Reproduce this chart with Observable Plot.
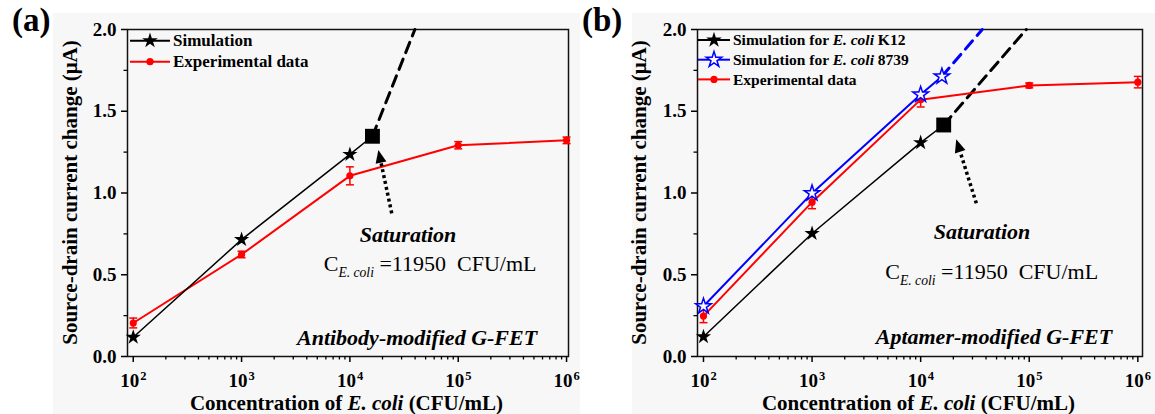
<!DOCTYPE html>
<html><head><meta charset="utf-8">
<script src="https://cdn.jsdelivr.net/npm/d3@7"></script>
<script src="https://cdn.jsdelivr.net/npm/@observablehq/plot@0.6"></script>
<style>
body{margin:0;background:#fff;}
#wrap{position:relative;width:1155px;height:414px;overflow:hidden;background:#fff;}
.bg{position:absolute;background:#f7f7f7;}
.panel{position:absolute;top:0;}
svg text{white-space:pre;}
</style></head><body>
<div id="wrap">
<div class="bg" style="left:53px;top:13px;width:527px;height:401px"></div>
<div class="bg" style="left:632px;top:13px;width:523px;height:401px"></div>
</div>
<script>
// ---------- data ----------
const decades = [100, 1000, 10000, 100000, 1000000];
const exponents = ["2", "3", "4", "5", "6"];
const yMajor = [0, 0.5, 1.0, 1.5, 2.0];
const yMinor = [0.25, 0.75, 1.25, 1.75];

// Panel (a)
const aSimConc = [100, 1000, 10000, 16150];
const aSimCurr = [0.118, 0.715, 1.236, 1.347];
const aDashConc = [16150, 39800];
const aDashCurr = [1.347, 2.0];
const aExpConc = [100, 1000, 10000, 100000, 1000000];
const aExpCurr = [0.205, 0.624, 1.105, 1.292, 1.322];
const aExpErr = [0.03, 0.02, 0.055, 0.022, 0.02];
const aArrowConc = [24600, 18500];
const aArrowCurr = [0.873, 1.26];

// Panel (b)
const bK12Conc = [100, 1000, 10000, 16300];
const bK12Curr = [0.121, 0.752, 1.308, 1.416];
const bK12DashConc = [16300, 93800];
const bK12DashCurr = [1.416, 2.0];
const b8739Conc = [100, 1000, 10000, 15700];
const b8739Curr = [0.307, 0.999, 1.602, 1.713];
const b8739DashConc = [15700, 36900];
const b8739DashCurr = [1.713, 2.0];
const bExpConc = [100, 1000, 10000, 100000, 1000000];
const bExpCurr = [0.247, 0.944, 1.571, 1.658, 1.678];
const bExpErr = [0.04, 0.04, 0.045, 0.015, 0.035];
const bArrowConc = [32900, 21500];
const bArrowCurr = [0.934, 1.325];

// text
const xTitle = [{t: "Concentration of "}, {t: "E. coli", italic: true}, {t: " (CFU/mL)"}];
const yTitle = "Source-drain current change (\u03bcA)";
const satLabel = "Saturation";
const concLabel = [{t: "C"}, {t: "E. coli", italic: true, sub: true}, {t: " =11950  CFU/mL"}];

const FONT = '"Liberation Serif","Times New Roman",Times,serif';

const pts = (xs, ys) => xs.map((x, i) => ({x, y: ys[i]}));
const errPts = (xs, ys, es) => xs.map((x, i) => ({x, y: ys[i], lo: ys[i] - es[i], hi: ys[i] + es[i]}));

const capSymbol = {draw(ctx, size) { const w = 4; ctx.moveTo(-w, 0); ctx.lineTo(w, 0); }};

function arrowMark(xs, ys) {
  return (index, scales) => {
    const X = scales.x, Y = scales.y;
    const x1 = X(xs[0]), y1 = Y(ys[0]), x2 = X(xs[1]), y2 = Y(ys[1]);
    const a = Math.atan2(y2 - y1, x2 - x1);
    const hl = 13, hw = 5.5;
    const bx = x2 - hl * Math.cos(a), by = y2 - hl * Math.sin(a);
    const g = d3.create("svg:g");
    g.append("line").attr("x1", x1).attr("y1", y1).attr("x2", bx).attr("y2", by)
      .attr("stroke", "#000").attr("stroke-width", 3.5).attr("stroke-dasharray", "3,3");
    g.append("path").attr("d", `M${x2},${y2}L${bx - hw * Math.sin(a)},${by + hw * Math.cos(a)}L${bx + hw * Math.sin(a)},${by - hw * Math.cos(a)}Z`)
      .attr("fill", "#000");
    return g.node();
  };
}

function rich(sel, x, y, parts, o) {
  const t = sel.append("text").attr("x", x).attr("y", y)
    .attr("font-family", FONT).attr("font-size", o.size)
    .attr("font-weight", o.weight || "normal").attr("font-style", o.style || "normal")
    .attr("text-anchor", o.anchor || "start").attr("fill", "#000");
  if (o.transform) t.attr("transform", o.transform);
  if (typeof parts === "string") parts = [{t: parts}];
  let shifted = 0;
  for (const p of parts) {
    const s = t.append("tspan").text(p.t);
    if (p.italic) s.attr("font-style", "italic");
    if (p.sub) { s.attr("font-size", o.size * 0.62).attr("dy", 6); shifted = 6; }
    else if (shifted) { s.attr("dy", -shifted); shifted = 0; }
  }
  return t;
}

function panel(cfg) {
  const xMinor = d3.scaleLog().domain([100, 1e6]).ticks().filter(d => !decades.includes(d));
  const marks = [
    Plot.frame({stroke: "#111", strokeWidth: 1.5}),
    Plot.axisY({ticks: yMajor, tickSize: 6, tickPadding: 5, tickFormat: d3.format(".1f"), fontSize: 19, fontWeight: "bold", fontFamily: FONT, label: null, strokeWidth: 1.5}),
    Plot.axisY({ticks: yMinor, tickSize: 3.5, tickFormat: () => "", label: null, strokeWidth: 1.3}),
    Plot.axisX({ticks: decades, tickSize: 6, tickFormat: () => "", label: null, strokeWidth: 1.5}),
    Plot.axisX({ticks: xMinor, tickSize: 3.5, tickFormat: () => "", label: null, strokeWidth: 1.3}),
    Plot.text(decades, {x: d => d, text: () => "10", frameAnchor: "bottom", lineAnchor: "bottom", textAnchor: "end", dy: 30, dx: 6, fontSize: 19, fontWeight: "bold", fontFamily: FONT, fill: "#000"}),
    Plot.text(decades, {x: d => d, text: (d, i) => exponents[i], frameAnchor: "bottom", lineAnchor: "bottom", textAnchor: "start", dy: 23, dx: 7, fontSize: 12.5, fontWeight: "bold", fontFamily: FONT, fill: "#000"}),
    ...cfg.marks
  ];
  return Plot.plot({
    width: cfg.width, height: 414,
    marginLeft: cfg.ml, marginRight: cfg.mr, marginTop: 29, marginBottom: 58,
    x: {type: "log", domain: cfg.xdom, axis: null},
    y: {domain: [0, 2], axis: null},
    style: {background: "transparent", fontFamily: FONT, overflow: "visible"},
    marks
  });
}

function expMarks(xs, ys, es) {
  const d = errPts(xs, ys, es);
  return [
    Plot.line(d, {x: "x", y: "y", stroke: "#ff0000", strokeWidth: 2}),
    Plot.ruleX(d, {x: "x", y1: "lo", y2: "hi", stroke: "#ff0000", strokeWidth: 1.5}),
    Plot.dot(d, {x: "x", y: "lo", symbol: capSymbol, stroke: "#ff0000", strokeWidth: 1.5}),
    Plot.dot(d, {x: "x", y: "hi", symbol: capSymbol, stroke: "#ff0000", strokeWidth: 1.5}),
    Plot.dot(d, {x: "x", y: "y", r: 3.6, fill: "#ff0000"})
  ];
}

const wrap = document.getElementById("wrap");

// ---------- Panel (a) ----------
const aSim = pts(aSimConc, aSimCurr);
const plotA = panel({
  width: 580, ml: 127, mr: 12, xdom: [10 ** 1.947, 10 ** 6.018],
  marks: [
    Plot.line(pts(aDashConc, aDashCurr), {x: "x", y: "y", stroke: "#000", strokeWidth: 3, strokeDasharray: "11,7"}),
    ...expMarks(aExpConc, aExpCurr, aExpErr),
    Plot.line(aSim, {x: "x", y: "y", stroke: "#000", strokeWidth: 1.5}),
    Plot.dot(aSim.slice(0, 3), {x: "x", y: "y", symbol: "star", r: 4.8, fill: "#000"}),
    Plot.dot(aSim.slice(3), {x: "x", y: "y", symbol: "square", r: 8.4, fill: "#000"}),
    arrowMark(aArrowConc, aArrowCurr)
  ]
});
plotA.classList.add("panel"); plotA.style.left = "0px";
wrap.appendChild(plotA);

// ---------- Panel (b) ----------
const bK12 = pts(bK12Conc, bK12Curr);
const b8739 = pts(b8739Conc, b8739Curr);
const plotB = panel({
  width: 575, ml: 117, mr: 13, xdom: [10 ** 1.945, 10 ** 6.043],
  marks: [
    Plot.line(pts(bK12DashConc, bK12DashCurr), {x: "x", y: "y", stroke: "#000", strokeWidth: 3, strokeDasharray: "11,7"}),
    Plot.line(pts(b8739DashConc, b8739DashCurr), {x: "x", y: "y", stroke: "#0000ff", strokeWidth: 3, strokeDasharray: "11,7"}),
    Plot.line(bK12, {x: "x", y: "y", stroke: "#000", strokeWidth: 1.5}),
    Plot.dot(bK12.slice(0, 3), {x: "x", y: "y", symbol: "star", r: 4.8, fill: "#000"}),
    Plot.dot(bK12.slice(3), {x: "x", y: "y", symbol: "square", r: 8.4, fill: "#000"}),
    ...expMarks(bExpConc, bExpCurr, bExpErr),
    Plot.line(b8739, {x: "x", y: "y", stroke: "#0000ff", strokeWidth: 2}),
    Plot.dot(b8739, {x: "x", y: "y", symbol: "star", r: 4.9, fill: "#f7f7f7", stroke: "#0000ff", strokeWidth: 1.5}),
    arrowMark(bArrowConc, bArrowCurr)
  ]
});
plotB.classList.add("panel"); plotB.style.left = "580px";
wrap.appendChild(plotB);

// ---------- text decorations ----------
function decorate(plot, o) {
  const svg = d3.select(plot);
  const X = plot.scale("x").apply, Y = plot.scale("y").apply;
  const fl = o.ml, fr = o.width - o.mr, ft = 29, fb = 356;
  rich(svg, o.labelX, 31, o.label, {size: 33, weight: "bold"});
  rich(svg, (fl + fr) / 2 - 1, 410, xTitle, {size: 21, weight: "bold", anchor: "middle"});
  rich(svg, 0, 0, yTitle, {size: 21, weight: "bold", anchor: "middle", transform: `translate(${o.yTitleX},${(ft + fb) / 2}) rotate(-90)`}).attr("dy", "0.34em");
  rich(svg, X(o.sat[0]), Y(o.sat[1]) + 7, satLabel, {size: 22, weight: "bold", style: "italic", anchor: "middle"});
  rich(svg, X(o.conc[0]), Y(o.conc[1]) + 6, concLabel, {size: 22, anchor: "middle"});
  rich(svg, X(o.dev[0]), Y(o.dev[1]) + 7, o.device, {size: 22, weight: "bold", style: "italic", anchor: "end"});
  // legend
  const lg = svg.append("g");
  o.legend.forEach((e, i) => {
    const cy = ft + o.lgTop + i * o.lgStep;
    lg.append("line").attr("x1", fl + o.lgX1).attr("x2", fl + o.lgX2).attr("y1", cy).attr("y2", cy)
      .attr("stroke", e.color).attr("stroke-width", 2);
    const mx = fl + (o.lgX1 + o.lgX2) / 2;
    if (e.marker === "circle") {
      lg.append("circle").attr("cx", mx).attr("cy", cy).attr("r", 3.6).attr("fill", e.color);
    } else {
      lg.append("path").attr("d", d3.symbol(d3.symbolStar, Math.PI * 4.9 * 4.9)())
        .attr("transform", `translate(${mx},${cy})`)
        .attr("fill", e.hollow ? "#f7f7f7" : e.color).attr("stroke", e.hollow ? e.color : "none").attr("stroke-width", 1.5);
    }
    rich(lg, fl + o.lgText, cy + o.lgSize * 0.33, e.parts, {size: o.lgSize, weight: "bold"});
  });
}

decorate(plotA, {
  width: 580, ml: 127, mr: 12, label: "(a)", labelX: 12, yTitleX: 70,
  sat: [34800, 0.74], conc: [55600, 0.557], dev: [541000, 0.11],
  device: [{t: "Antibody-modified G-FET"}],
  lgTop: 11.7, lgStep: 21, lgX1: 3, lgX2: 43, lgText: 46, lgSize: 17,
  legend: [
    {color: "#000", marker: "star", parts: [{t: "Simulation"}]},
    {color: "#ff0000", marker: "circle", parts: [{t: "Experimental data"}]}
  ]
});
decorate(plotB, {
  width: 575, ml: 117, mr: 13, label: "(b)", labelX: 2, yTitleX: 59,
  sat: [37100, 0.76], conc: [45600, 0.508], dev: [587000, 0.118],
  device: [{t: "Aptamer-modified G-FET"}],
  lgTop: 11, lgStep: 19.7, lgX1: 1, lgX2: 33, lgText: 36, lgSize: 15.5,
  legend: [
    {color: "#000", marker: "star", parts: [{t: "Simulation for "}, {t: "E. coli", italic: true}, {t: " K12"}]},
    {color: "#0000ff", marker: "star", hollow: true, parts: [{t: "Simulation for "}, {t: "E. coli", italic: true}, {t: " 8739"}]},
    {color: "#ff0000", marker: "circle", parts: [{t: "Experimental data"}]}
  ]
});
</script>
</body></html>
